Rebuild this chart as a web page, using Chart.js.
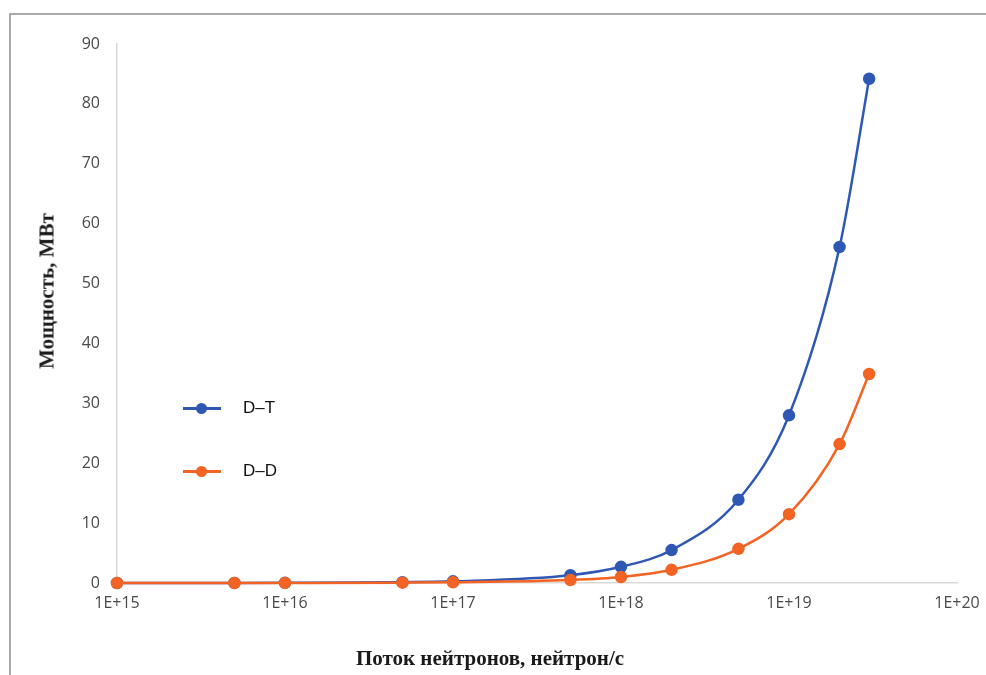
<!DOCTYPE html>
<html>
<head>
<meta charset="utf-8">
<script src="https://cdn.jsdelivr.net/npm/chart.js@4"></script>
<style>
  html, body { margin: 0; padding: 0; background: #fff; }
  #wrap { position: relative; width: 986px; height: 675px; overflow: hidden; }
  #frame { position: absolute; left: 9px; top: 13px; right: -10px; bottom: -10px;
           border-top: 2px solid #a9a9a9; border-left: 2px solid #a9a9a9; }
  canvas { position: absolute; left: 0; top: 0; }
  .ytitle { position: absolute; left: 47px; top: 291px; transform: translate(-50%, -50%) rotate(-90deg);
            font-family: "Liberation Serif", "Times New Roman", serif; font-weight: bold; font-size: 21px;
            color: #1a1a1a; white-space: nowrap; }
  .xtitle { position: absolute; left: 490px; top: 658px; transform: translate(-50%, -50%);
            font-family: "Liberation Serif", "Times New Roman", serif; font-weight: bold; font-size: 21px;
            color: #1a1a1a; white-space: nowrap; }
  .leg { position: absolute; left: 183px; height: 20px; width: 120px; }
  .leg .ln { position: absolute; left: 0; top: 9px; width: 38px; height: 3px; }
  .leg .dt { position: absolute; left: 13px; top: 5px; width: 11px; height: 11px; border-radius: 50%; }
  .leg .tx { position: absolute; left: 60px; top: 0; font-family: "Liberation Sans", Arial, sans-serif;
             font-size: 17px; line-height: 20px; color: #111; }
</style>
</head>
<body>
<div id="wrap">
  <div id="frame"></div>
  <canvas id="c" width="986" height="675"></canvas>
  <div class="ytitle">Мощность, МВт</div>
  <div class="xtitle">Поток нейтронов, нейтрон/с</div>
  <div class="leg" style="top:398px"><div class="ln" style="background:#2F58B5"></div><div class="dt" style="background:#2F58B5"></div><div class="tx">D–T</div></div>
  <div class="leg" style="top:461px"><div class="ln" style="background:#F26324"></div><div class="dt" style="background:#F26324"></div><div class="tx">D–D</div></div>
</div>
<script>
const seriesNames = ['D–T', 'D–D'];
const fluxValues = [1e15, 5e15, 1e16, 5e16, 1e17, 5e17, 1e18, 2e18, 5e18, 1e19, 2e19, 3e19];
const dtPower = [0.0028, 0.014, 0.028, 0.14, 0.28, 1.3, 2.7, 5.5, 13.9, 28.0, 56.1, 84.2];
const ddPower = [0.0012, 0.006, 0.012, 0.06, 0.12, 0.5, 1.0, 2.2, 5.7, 11.5, 23.2, 34.9];
const xTickValues = [1e15, 1e16, 1e17, 1e18, 1e19, 1e20];
const xTickLabels = ['1E+15', '1E+16', '1E+17', '1E+18', '1E+19', '1E+20'];
const yTickValues = [0, 10, 20, 30, 40, 50, 60, 70, 80, 90];

const BLUE = '#2F58B5', ORANGE = '#F26324';
const toPts = arr => fluxValues.map((x, i) => ({ x: x, y: arr[i] }));
const tickFont = { family: '"Open Sans", "Liberation Sans", sans-serif', size: 16 };

new Chart(document.getElementById('c'), {
  type: 'line',
  data: {
    datasets: [
      { label: seriesNames[0], data: toPts(dtPower), borderColor: BLUE, backgroundColor: BLUE,
        borderWidth: 2.5, pointRadius: 5, pointHoverRadius: 5, cubicInterpolationMode: 'monotone',
        order: 1, clip: false },
      { label: seriesNames[1], data: toPts(ddPower), borderColor: ORANGE, backgroundColor: ORANGE,
        borderWidth: 2.5, pointRadius: 5, pointHoverRadius: 5, cubicInterpolationMode: 'monotone',
        order: 0, clip: false }
    ]
  },
  options: {
    responsive: false,
    animation: false,
    layout: { padding: { left: 10, right: 29, top: 44, bottom: 0 } },
    plugins: { legend: { display: false }, tooltip: { enabled: false } },
    scales: {
      x: {
        type: 'logarithmic', min: 1e15, max: 1e20,
        afterBuildTicks: s => { s.ticks = xTickValues.map(v => ({ value: v })); },
        afterFit: s => { s.height = 92; s.paddingRight = 0; },
        grid: { display: false, drawTicks: false },
        border: { display: true, color: '#d9d9d9', width: 1.5 },
        ticks: { padding: 11, color: '#4a4a4a', font: tickFont, maxRotation: 0, autoSkip: false,
                 callback: (v, i) => xTickLabels[i] }
      },
      y: {
        type: 'linear', min: 0, max: 90,
        afterBuildTicks: s => { s.ticks = yTickValues.map(v => ({ value: v })); },
        afterFit: s => { s.width = 107; },
        grid: { display: false, drawTicks: false },
        border: { display: true, color: '#d9d9d9', width: 1.5 },
        ticks: { padding: 17, color: '#4a4a4a', font: tickFont, autoSkip: false }
      }
    }
  }
});
</script>
</body>
</html>
